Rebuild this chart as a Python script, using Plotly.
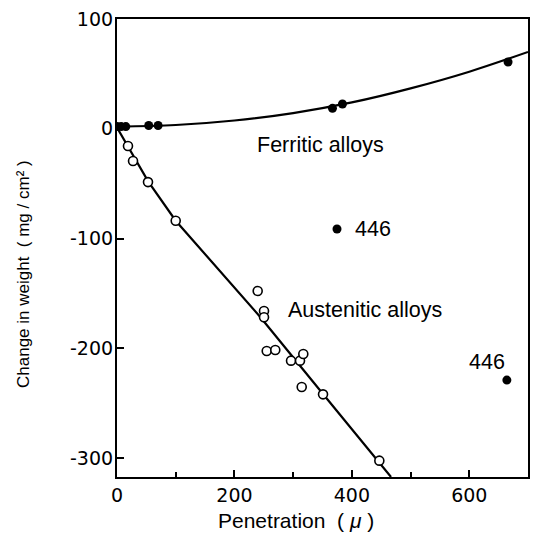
import plotly.graph_objects as go

# Ferritic alloys (filled points)
ferritic_x = [0, 7, 15, 54, 70, 367, 384, 666]
ferritic_y = [2, 2, 2, 3, 3, 18.6, 22.6, 60.8]

# Ferritic fitted curve
ferritic_curve_x = [0, 100, 200, 300, 400, 500, 600, 700]
ferritic_curve_y = [2, 3.4, 7.5, 14.3, 24, 36.8, 52, 70]

# Austenitic alloys (open points)
austenitic_x = [18.7, 27.3, 52.8, 100, 239.6, 250.4, 250.4, 255, 269.6, 296.4, 311.7, 317.3, 314.6, 350.9, 446.8]
austenitic_y = [-15.7, -29.4, -48.6, -83.8, -147.8, -166, -171.8, -202.5, -201.6, -211.3, -211.3, -205.2, -235.3, -242, -302.4]

# Austenitic fitted line
austenitic_line_x = [0, 18.2, 53.3, 100, 243.6, 350.9, 466.7]
austenitic_line_y = [1, -15.4, -48.2, -83.8, -171.3, -241.7, -317.3]

# Type 446 points (filled)
alloy446_x = [374.7, 664]
alloy446_y = [-91.3, -229]

TEXT_FONT = "Liberation Sans, Arial, sans-serif"
TICK_FONT = "DejaVu Sans, sans-serif"

fig = go.Figure()
fig.add_trace(go.Scatter(x=ferritic_curve_x, y=ferritic_curve_y, mode="lines",
                         line=dict(color="black", width=2.2, shape="spline"), hoverinfo="skip"))
fig.add_trace(go.Scatter(x=austenitic_line_x, y=austenitic_line_y, mode="lines",
                         line=dict(color="black", width=2.2, shape="linear"), hoverinfo="skip"))
fig.add_trace(go.Scatter(x=austenitic_x, y=austenitic_y, mode="markers",
                         marker=dict(symbol="circle", size=9, color="white",
                                     line=dict(color="black", width=1.6))))
fig.add_trace(go.Scatter(x=ferritic_x, y=ferritic_y, mode="markers",
                         marker=dict(symbol="circle", size=9, color="black")))
fig.add_trace(go.Scatter(x=alloy446_x, y=alloy446_y, mode="markers",
                         marker=dict(symbol="circle", size=9, color="black")))

annots = [
    dict(x=345.8, y=-14.8, text="Ferritic alloys", xref="x", yref="y", showarrow=False,
         font=dict(size=21.5)),
    dict(x=423, y=-165.2, text="Austenitic alloys", xref="x", yref="y", showarrow=False,
         font=dict(size=21.5)),
    dict(x=436, y=-91.3, text="446", xref="x", yref="y", showarrow=False,
         font=dict(size=21.5)),
    dict(x=630, y=-212.5, text="446", xref="x", yref="y", showarrow=False,
         font=dict(size=21.5)),
    dict(x=0.435, y=-0.094, xref="paper", yref="paper", text="Penetration  ( <i>μ</i> )",
         showarrow=False, font=dict(size=21), xanchor="center", yanchor="middle"),
    dict(x=-0.229, y=0.443, xref="paper", yref="paper", text="Change in weight  ( mg / cm² )",
         showarrow=False, font=dict(size=17), textangle=-90, xanchor="center", yanchor="middle"),
]

fig.update_layout(
    width=533, height=545,
    margin=dict(l=117, r=5, t=19, b=68, autoexpand=False),
    paper_bgcolor="white", plot_bgcolor="white",
    showlegend=False,
    font=dict(family=TEXT_FONT, color="black", size=20),
    annotations=annots,
)
fig.update_xaxes(range=[0, 700], tickvals=[0, 200, 400, 600], ticks="inside", ticklen=7,
                 tickwidth=1.5, tickcolor="black",
                 minor=dict(tickvals=[100, 300, 500], ticks="inside", ticklen=5, tickwidth=1.5, tickcolor="black"),
                 showline=True, linecolor="black", linewidth=2.2, mirror=True,
                 showgrid=False, zeroline=False,
                 tickfont=dict(size=19, family=TICK_FONT))
fig.update_yaxes(range=[-317.3, 100], tickvals=[100, 0, -100, -200, -300],
                 ticktext=["100", "0", "-100", "-200", "-300"],
                 ticks="inside", ticklen=7, tickwidth=1.5, tickcolor="black",
                 showline=True, linecolor="black", linewidth=2.2, mirror=True,
                 showgrid=False, zeroline=False, ticklabelstandoff=-2,
                 tickfont=dict(size=19, family=TICK_FONT))

fig.write_html("out.html")
